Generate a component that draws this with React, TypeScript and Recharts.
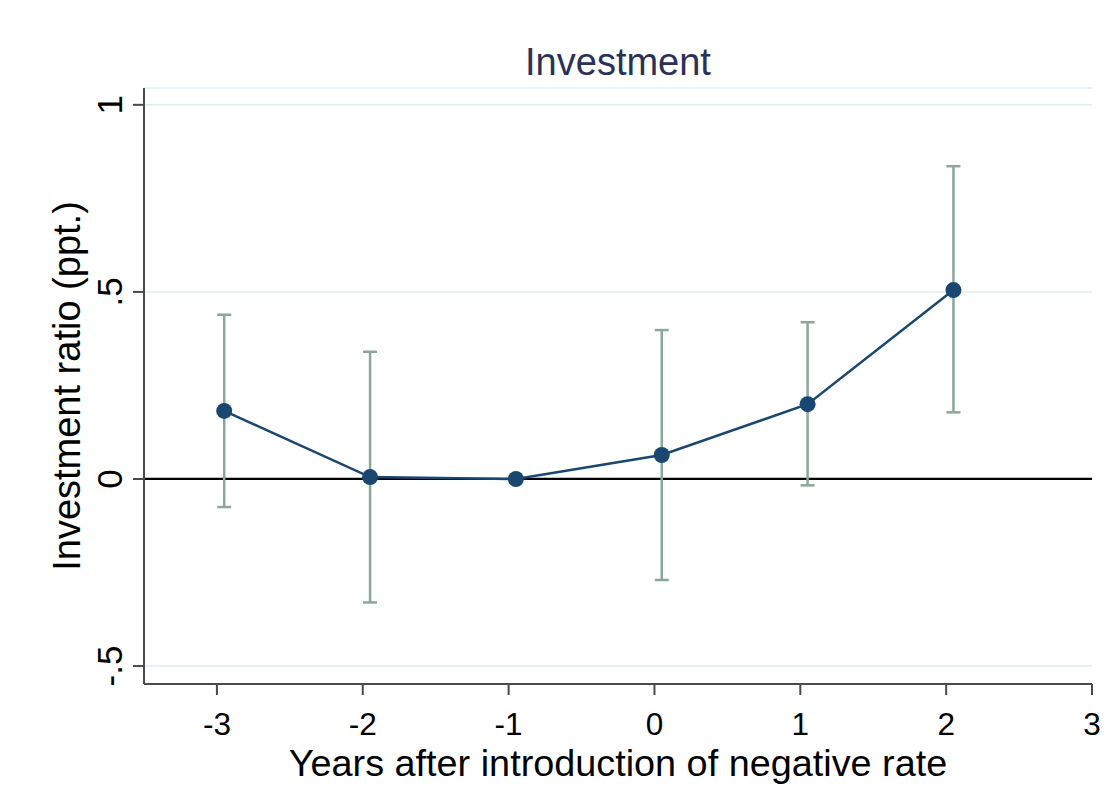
import React from 'react';
import { ComposedChart, Line, ErrorBar, XAxis, YAxis, CartesianGrid, ReferenceLine } from 'recharts';

const chartTitle = 'Investment';
const xAxisTitle = 'Years after introduction of negative rate';
const yAxisTitle = 'Investment ratio (ppt.)';

const xTicks = [-3, -2, -1, 0, 1, 2, 3];
const xTickLabels = ['-3', '-2', '-1', '0', '1', '2', '3'];
const yTicks = [-0.5, 0, 0.5, 1];
const yTickLabels = ['-.5', '0', '.5', '1'];

// plotted positions (slightly shifted right of the integer years, as in the source)
const xPositions = [-2.95, -1.95, -0.95, 0.05, 1.05, 2.05];
const coefficients = [0.182, 0.005, 0, 0.064, 0.2, 0.505];
const ciLower: (number | null)[] = [-0.075, -0.33, null, -0.27, -0.017, 0.178];
const ciUpper: (number | null)[] = [0.439, 0.34, null, 0.398, 0.419, 0.836];

const data = xPositions.map((x, i) => ({
  x,
  coef: coefficients[i],
  err:
    ciLower[i] == null || ciUpper[i] == null
      ? null
      : [coefficients[i] - (ciLower[i] as number), (ciUpper[i] as number) - coefficients[i]],
}));

const FONT = '"Liberation Sans", Arial, Helvetica, sans-serif';
const NAVY = '#1a476f';
const CI_COLOR = '#8aa799';
const AXIS_COLOR = '#4a4a4a';

const XTick = (props: any) => {
  const { x, y, payload } = props;
  const i = xTicks.findIndex((t) => Math.abs(t - payload.value) < 1e-9);
  return (
    <text x={x} y={y + 40} textAnchor="middle" fontSize={31.5} fill="#000" fontFamily={FONT}>
      {i >= 0 ? xTickLabels[i] : String(payload.value)}
    </text>
  );
};

const YTick = (props: any) => {
  const { x, y, payload } = props;
  const i = yTicks.findIndex((t) => Math.abs(t - payload.value) < 1e-9);
  const bx = x - 11;
  return (
    <text
      x={bx}
      y={y}
      transform={`rotate(-90 ${bx} ${y})`}
      textAnchor="middle"
      fontSize={35}
      fill="#000"
      fontFamily={FONT}
    >
      {i >= 0 ? yTickLabels[i] : String(payload.value)}
    </text>
  );
};

const YLabel = (props: any) => {
  const vb = props.viewBox || {};
  const cy = (vb.y ?? 88) + (vb.height ?? 596) / 2;
  const bx = 80;
  return (
    <text
      x={bx}
      y={cy}
      transform={`rotate(-90 ${bx} ${cy})`}
      textAnchor="middle"
      fontSize={38}
      fill="#000"
      fontFamily={FONT}
    >
      {yAxisTitle}
    </text>
  );
};

const XLabel = (props: any) => {
  const vb = props.viewBox || {};
  const cx = (vb.x ?? 144) + (vb.width ?? 948) / 2;
  return (
    <text x={cx} y={776} textAnchor="middle" fontSize={37.8} fill="#000" fontFamily={FONT}>
      {xAxisTitle}
    </text>
  );
};

export default function App() {
  return (
    <div style={{ position: 'relative', width: 1112, height: 808, background: '#fff' }}>
      <style>{`body{margin:0;background:#fff}`}</style>
      <ComposedChart
        width={1112}
        height={808}
        data={data}
        margin={{ top: 88, right: 20, bottom: 0, left: 0 }}
      >
        <CartesianGrid vertical={false} stroke="#e2edf0" strokeWidth={1.5} />
        <XAxis
          type="number"
          dataKey="x"
          domain={[-3.5, 3]}
          ticks={xTicks}
          allowDataOverflow
          height={124}
          tickSize={11}
          tickMargin={0}
          axisLine={{ stroke: AXIS_COLOR, strokeWidth: 2 }}
          tickLine={{ stroke: AXIS_COLOR, strokeWidth: 2 }}
          tick={<XTick />}
          interval={0}
          label={{ content: <XLabel /> } as any}
        />
        <YAxis
          type="number"
          domain={[-0.548, 1.045]}
          ticks={yTicks}
          allowDataOverflow
          width={144}
          tickSize={11}
          tickMargin={0}
          axisLine={{ stroke: AXIS_COLOR, strokeWidth: 2 }}
          tickLine={{ stroke: AXIS_COLOR, strokeWidth: 2 }}
          tick={<YTick />}
          interval={0}
          label={{ content: <YLabel /> } as any}
        />
        <ReferenceLine y={0} stroke="#000" strokeWidth={2.2} />
        <Line
          type="linear"
          dataKey="coef"
          stroke={NAVY}
          strokeWidth={2.5}
          isAnimationActive={false}
          dot={{ r: 8, fill: NAVY, stroke: NAVY, strokeWidth: 0 }}
          activeDot={false}
        >
          <ErrorBar dataKey="err" width={7} stroke={CI_COLOR} strokeWidth={2.5} direction="y" />
        </Line>
      </ComposedChart>
      <svg
        width={1112}
        height={100}
        style={{ position: 'absolute', left: 0, top: 0, pointerEvents: 'none' }}
      >
        <text x={618} y={75} textAnchor="middle" fontSize={38} fill="#2a3157" fontFamily={FONT}>
          {chartTitle}
        </text>
      </svg>
    </div>
  );
}
